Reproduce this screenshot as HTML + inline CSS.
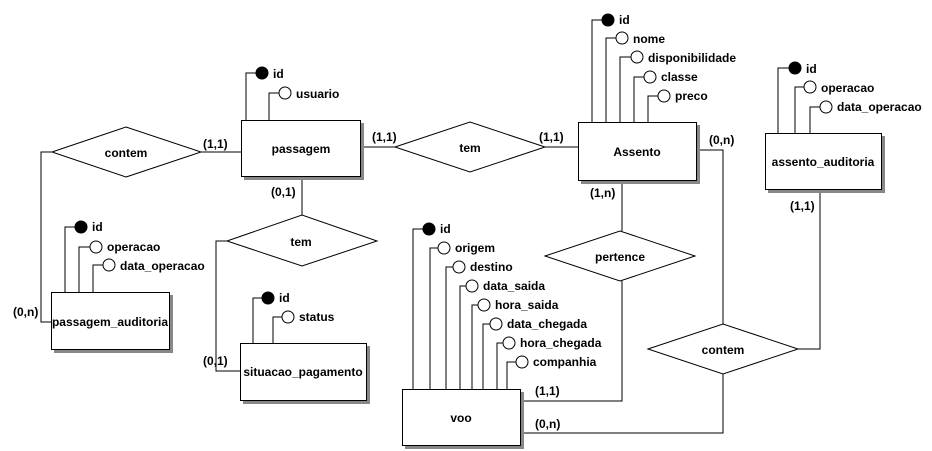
<!DOCTYPE html>
<html><head><meta charset="utf-8"><style>
html,body{margin:0;padding:0;background:#fff;}
svg{display:block;}
text{font-family:"Liberation Sans",sans-serif;font-weight:bold;font-size:12px;fill:#000;}
</style></head><body>
<svg width="932" height="451" viewBox="0 0 932 451" xmlns="http://www.w3.org/2000/svg">
<g fill="none" stroke="#000" stroke-width="1" shape-rendering="crispEdges">
<!-- connectors -->
<polyline points="201,152 241,152"/>
<polyline points="52,152 41,152 41,322 51,322"/>
<polyline points="361,147 395,147"/>
<polyline points="545,147 578,147"/>
<polyline points="302,177 302,215"/>
<polyline points="227,241 216,241 216,371 240,371"/>
<polyline points="622,181 622,231"/>
<polyline points="622,281 622,401 521,401"/>
<polyline points="697,150 723,150 723,324"/>
<polyline points="798,349 820,349 820,190"/>
<polyline points="723,374 723,433 521,433"/>
<!-- attribute lines -->
<polyline points="246,120 246,73 256,73"/>
<polyline points="269,120 269,93 279,93"/>
<polyline points="592,122 592,20 602,20"/>
<polyline points="606,122 606,38 616,38"/>
<polyline points="620,122 620,57 631,57"/>
<polyline points="634,122 634,77 644,77"/>
<polyline points="648,122 648,96 658,96"/>
<polyline points="778,133 778,68 789,68"/>
<polyline points="795,133 795,87 804,87"/>
<polyline points="810,133 810,107 820,107"/>
<polyline points="65,292 65,227 75,227"/>
<polyline points="79,292 79,247 90,247"/>
<polyline points="93,292 93,265 103,265"/>
<polyline points="253,343 253,298 262,298"/>
<polyline points="273,343 273,317 282,317"/>
<polyline points="413,389 413,229 423,229"/>
<polyline points="430,389 430,248 438,248"/>
<polyline points="446,389 446,267 453,267"/>
<polyline points="460,389 460,286 466,286"/>
<polyline points="472,389 472,305 478,305"/>
<polyline points="483,389 483,324 490,324"/>
<polyline points="497,389 497,343 503,343"/>
<polyline points="507,389 507,362 516,362"/>
</g>
<g stroke="#000" stroke-width="1">
<circle cx="262" cy="73" r="6" fill="#000"/>
<circle cx="285" cy="93" r="6" fill="#fff"/>
<circle cx="608" cy="20" r="6" fill="#000"/>
<circle cx="622" cy="38" r="6" fill="#fff"/>
<circle cx="637" cy="57" r="6" fill="#fff"/>
<circle cx="650" cy="77" r="6" fill="#fff"/>
<circle cx="664" cy="96" r="6" fill="#fff"/>
<circle cx="795" cy="68" r="6" fill="#000"/>
<circle cx="810" cy="87" r="6" fill="#fff"/>
<circle cx="826" cy="107" r="6" fill="#fff"/>
<circle cx="81" cy="227" r="6" fill="#000"/>
<circle cx="96" cy="247" r="6" fill="#fff"/>
<circle cx="109" cy="265" r="6" fill="#fff"/>
<circle cx="268" cy="298" r="6" fill="#000"/>
<circle cx="288" cy="317" r="6" fill="#fff"/>
<circle cx="429" cy="229" r="6" fill="#000"/>
<circle cx="444" cy="248" r="6" fill="#fff"/>
<circle cx="459" cy="267" r="6" fill="#fff"/>
<circle cx="472" cy="286" r="6" fill="#fff"/>
<circle cx="484" cy="305" r="6" fill="#fff"/>
<circle cx="496" cy="324" r="6" fill="#fff"/>
<circle cx="509" cy="343" r="6" fill="#fff"/>
<circle cx="522" cy="362" r="6" fill="#fff"/>
</g>
<!-- diamonds -->
<g fill="#fff" stroke="#000" stroke-width="1">
<polygon points="52,152 126,127 201,152 126,177"/>
<polygon points="395,147 470,122 545,147 470,172"/>
<polygon points="227,241 302,215 377,241 302,266"/>
<polygon points="545,256 620,231 695,256 620,281"/>
<polygon points="648,349 723,324 798,349 723,374"/>
</g>
<!-- entity boxes with shadows -->
<g shape-rendering="crispEdges">
<rect x="244" y="123" width="120" height="57" fill="#888"/>
<rect x="241.5" y="120.5" width="119" height="56" fill="#fff" stroke="#000"/>
<rect x="581" y="125" width="119" height="59" fill="#888"/>
<rect x="578.5" y="122.5" width="118" height="58" fill="#fff" stroke="#000"/>
<rect x="768" y="136" width="117" height="57" fill="#888"/>
<rect x="765.5" y="133.5" width="116" height="56" fill="#fff" stroke="#000"/>
<rect x="54" y="295" width="119" height="58" fill="#888"/>
<rect x="51.5" y="292.5" width="118" height="57" fill="#fff" stroke="#000"/>
<rect x="243" y="346" width="127" height="58" fill="#888"/>
<rect x="240.5" y="343.5" width="126" height="57" fill="#fff" stroke="#000"/>
<rect x="405" y="392" width="119" height="57" fill="#888"/>
<rect x="402.5" y="389.5" width="118" height="56" fill="#fff" stroke="#000"/>
</g>
<!-- labels -->
<g text-anchor="middle">
<text x="301" y="153">passagem</text>
<text x="637" y="156">Assento</text>
<text x="823" y="166">assento_auditoria</text>
<text x="110" y="326">passagem_auditoria</text>
<text x="303" y="376">situacao_pagamento</text>
<text x="461" y="422">voo</text>
<text x="126" y="157">contem</text>
<text x="470" y="152">tem</text>
<text x="301" y="246">tem</text>
<text x="620" y="261">pertence</text>
<text x="723" y="354">contem</text>
</g>
<text x="273" y="78">id</text>
<text x="296" y="98">usuario</text>
<text x="619" y="24">id</text>
<text x="633" y="43">nome</text>
<text x="648" y="62">disponibilidade</text>
<text x="661" y="81">classe</text>
<text x="675" y="100">preco</text>
<text x="806" y="73">id</text>
<text x="821" y="92">operacao</text>
<text x="837" y="111">data_operacao</text>
<text x="92" y="231">id</text>
<text x="107" y="251">operacao</text>
<text x="120" y="270">data_operacao</text>
<text x="279" y="302">id</text>
<text x="299" y="321">status</text>
<text x="440" y="233">id</text>
<text x="455" y="252">origem</text>
<text x="470" y="271">destino</text>
<text x="483" y="290">data_saida</text>
<text x="495" y="309">hora_saida</text>
<text x="507" y="328">data_chegada</text>
<text x="520" y="347">hora_chegada</text>
<text x="533" y="366">companhia</text>
<text x="203" y="148">(1,1)</text>
<text x="372" y="141">(1,1)</text>
<text x="539" y="141">(1,1)</text>
<text x="271" y="196">(0,1)</text>
<text x="590" y="197">(1,n)</text>
<text x="709" y="144">(0,n)</text>
<text x="790" y="210">(1,1)</text>
<text x="13" y="316">(0,n)</text>
<text x="203" y="365">(0,1)</text>
<text x="535" y="395">(1,1)</text>
<text x="535" y="428">(0,n)</text>
</svg>
</body></html>
